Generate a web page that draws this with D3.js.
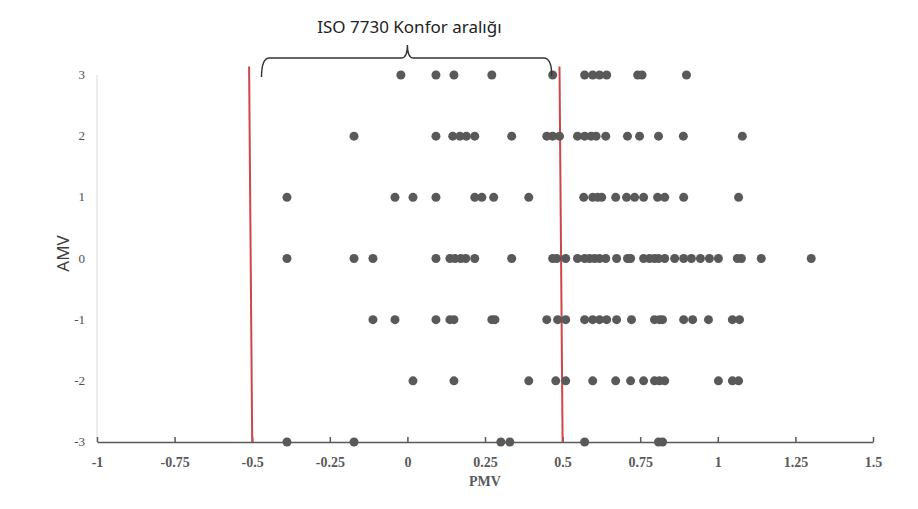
<!DOCTYPE html>
<html>
<head>
<meta charset="utf-8">
<script src="https://cdn.jsdelivr.net/npm/d3@7"></script>
<style>
  body { margin: 0; background: #fff; }
  svg { display: block; }
</style>
</head>
<body>
<script>
// PMV values per AMV vote level
var amv3 = [-0.021, 0.092, 0.150, 0.272, 0.468, 0.571, 0.597, 0.619, 0.642, 0.742, 0.756, 0.899];
var amv2 = [-0.172, 0.092, 0.146, 0.169, 0.190, 0.217, 0.336, 0.449, 0.468, 0.490, 0.548, 0.571, 0.592, 0.608, 0.639, 0.709, 0.748, 0.809, 0.889, 1.079];
var amv1 = [-0.388, -0.040, 0.018, 0.092, 0.217, 0.240, 0.278, 0.391, 0.568, 0.597, 0.613, 0.626, 0.671, 0.706, 0.732, 0.761, 0.806, 0.829, 0.890, 1.067];
var amv0 = [-0.388, -0.172, -0.111, 0.092, 0.137, 0.153, 0.172, 0.188, 0.217, 0.336, 0.468, 0.481, 0.510, 0.548, 0.571, 0.587, 0.603, 0.619, 0.639, 0.674, 0.709, 0.719, 0.761, 0.780, 0.796, 0.809, 0.829, 0.861, 0.890, 0.915, 0.944, 0.973, 1.002, 1.063, 1.076, 1.140, 1.301];
var amvM1 = [-0.111, -0.040, 0.092, 0.137, 0.150, 0.272, 0.282, 0.449, 0.484, 0.510, 0.571, 0.597, 0.619, 0.642, 0.674, 0.722, 0.796, 0.812, 0.822, 0.890, 0.919, 0.970, 1.047, 1.070];
var amvM2 = [0.018, 0.150, 0.391, 0.478, 0.510, 0.597, 0.671, 0.719, 0.761, 0.796, 0.812, 0.829, 1.002, 1.047, 1.067];
var amvM3 = [-0.388, -0.172, 0.301, 0.330, 0.571, 0.809, 0.822];

var xTicks = [-1, -0.75, -0.5, -0.25, 0, 0.25, 0.5, 0.75, 1, 1.25, 1.5];
var yTicks = [-3, -2, -1, 0, 1, 2, 3];

// hand drawn comfort limits: [pmv at bottom, pmv at top]
var leftLimit = [-0.5, -0.51];
var rightLimit = [0.5, 0.49];
var braceRange = [-0.47, 0.465];

var rows = [
  { amv: 3, pmv: amv3 },
  { amv: 2, pmv: amv2 },
  { amv: 1, pmv: amv1 },
  { amv: 0, pmv: amv0 },
  { amv: -1, pmv: amvM1 },
  { amv: -2, pmv: amvM2 },
  { amv: -3, pmv: amvM3 }
];

var width = 918, height = 509;
var margin = { top: 75, right: 45, bottom: 67, left: 97 };

var svg = d3.select("body").append("svg")
  .attr("width", width)
  .attr("height", height);

var x = d3.scaleLinear().domain([-1, 1.5]).range([margin.left, width - margin.right]);
var y = d3.scaleLinear().domain([-3, 3]).range([height - margin.bottom, margin.top]);

// y axis: light line, labels only
svg.append("line")
  .attr("x1", x(-1)).attr("x2", x(-1))
  .attr("y1", y(3)).attr("y2", y(-3))
  .attr("stroke", "#d9d9d9");

svg.append("g")
  .selectAll("text")
  .data(yTicks)
  .enter()
  .append("text")
  .attr("x", x(-1) - 12)
  .attr("y", function (d) { return y(d) + 4; })
  .attr("text-anchor", "end")
  .attr("font-family", "'Liberation Serif', serif")
  .attr("font-size", 13)
  .attr("fill", "#4d4d4d")
  .text(function (d) { return d; });

// x axis
var xAxis = svg.append("g")
  .attr("transform", "translate(0," + y(-3) + ")")
  .call(d3.axisBottom(x).tickValues(xTicks).tickSizeInner(-5).tickSizeOuter(0).tickPadding(15)
    .tickFormat(function (d) { return String(d); }));

xAxis.select(".domain").attr("stroke", "#595959").attr("stroke-width", 1.5);
xAxis.selectAll(".tick line").attr("stroke", "#595959").attr("stroke-width", 1.5);
xAxis.selectAll(".tick text")
  .attr("font-family", "'Liberation Serif', serif")
  .attr("font-size", 14)
  .attr("font-weight", "bold")
  .attr("fill", "#595959");

svg.append("text")
  .attr("x", x(0.25))
  .attr("y", 486)
  .attr("text-anchor", "middle")
  .attr("font-family", "'Liberation Serif', serif")
  .attr("font-size", 14)
  .attr("font-weight", "bold")
  .attr("fill", "#595959")
  .text("PMV");

svg.append("text")
  .attr("transform", "translate(69," + (y(0) - 5) + ") rotate(-90)")
  .attr("text-anchor", "middle")
  .attr("font-family", "'Noto Sans', sans-serif")
  .attr("font-size", 17)
  .attr("fill", "#404040")
  .text("AMV");

// red comfort limits
[leftLimit, rightLimit].forEach(function (lim) {
  svg.append("line")
    .attr("x1", x(lim[0])).attr("y1", y(-3))
    .attr("x2", x(lim[1])).attr("y2", y(3.14))
    .attr("stroke", "#d0454a")
    .attr("stroke-width", 2);
});

// points
rows.forEach(function (row) {
  svg.append("g")
    .selectAll("circle")
    .data(row.pmv)
    .enter()
    .append("circle")
    .attr("cx", function (d) { return x(d); })
    .attr("cy", y(row.amv))
    .attr("r", 4.5)
    .attr("fill", "#595959");
});

// brace over the comfort range
var bx0 = x(braceRange[0]), bx1 = x(braceRange[1]), bc = x(0);
var by = 58;
var p = d3.path();
p.moveTo(bx0, 77);
p.quadraticCurveTo(bx0, by, bx0 + 8, by);
p.lineTo(bc - 6, by);
p.quadraticCurveTo(bc, by, bc, by - 13);
p.quadraticCurveTo(bc, by, bc + 6, by);
p.lineTo(bx1 - 8, by);
p.quadraticCurveTo(bx1, by, bx1, 76);
svg.append("path")
  .attr("d", p.toString())
  .attr("fill", "none")
  .attr("stroke", "#333")
  .attr("stroke-width", 1.4);

svg.append("text")
  .attr("x", bc + 2)
  .attr("y", 33)
  .attr("text-anchor", "middle")
  .attr("font-family", "'Noto Sans', sans-serif")
  .attr("font-size", 17)
  .attr("fill", "#222")
  .text("ISO 7730 Konfor aralığı");
</script>
</body>
</html>
